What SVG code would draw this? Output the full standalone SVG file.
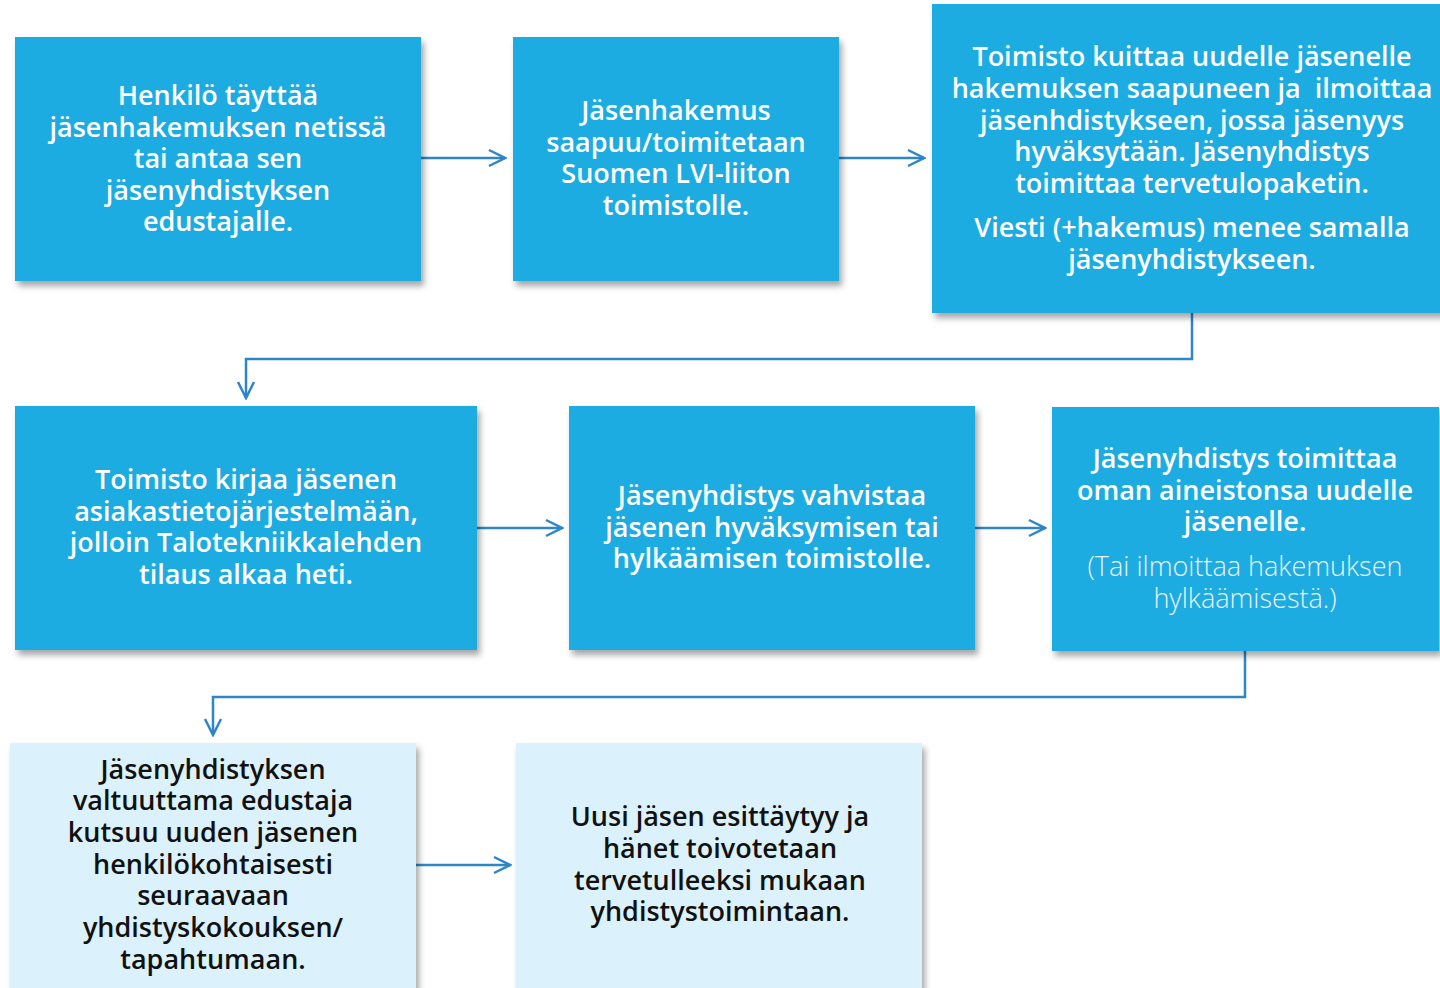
<svg xmlns="http://www.w3.org/2000/svg" width="1440" height="988" viewBox="0 0 1440 988">
<defs>
<filter id="sh" x="-10%" y="-10%" width="130%" height="130%">
<feDropShadow dx="3" dy="5" stdDeviation="3" flood-color="#000" flood-opacity="0.35"/>
</filter>
<marker id="ah" viewBox="0 0 20 20" refX="18" refY="10" markerWidth="20" markerHeight="20" markerUnits="userSpaceOnUse" orient="auto">
<path d="M2,2 L18,10 L2,18" fill="none" stroke="#2E86C8" stroke-width="2.5"/>
</marker>
</defs>
<style>
.dark{fill:#1EACE2;filter:url(#sh)}
.light{fill:#DBF1FC;filter:url(#sh)}
.t{font-family:"Open Sans","Noto Sans",sans-serif;font-size:27px;font-weight:600;text-anchor:middle;fill:#fff}
.tl{font-family:"Open Sans","Noto Sans",sans-serif;font-size:27px;font-weight:300;text-anchor:middle;fill:#EAF2F8}
.tb{font-family:"Open Sans","Noto Sans",sans-serif;font-size:27px;font-weight:600;text-anchor:middle;fill:#111}
.c{fill:none;stroke:#2E86C8;stroke-width:2.5}
</style>
<rect width="1440" height="988" fill="#fff"/>
<g id="connectors">
<path class="c" d="M421,158 H505" marker-end="url(#ah)"/>
<path class="c" d="M839,158 H924" marker-end="url(#ah)"/>
<path class="c" d="M1192,313 V359 H246 V398" marker-end="url(#ah)"/>
<path class="c" d="M477,528 H562" marker-end="url(#ah)"/>
<path class="c" d="M975,528 H1045" marker-end="url(#ah)"/>
<path class="c" d="M1245,651 V697 H213 V735" marker-end="url(#ah)"/>
<path class="c" d="M416,865 H510" marker-end="url(#ah)"/>
</g>
<g id="n1">
<rect class="dark" x="15" y="37" width="406" height="244"/>
<text class="t"><tspan x="218" y="105">Henkilö täyttää</tspan><tspan x="218" y="137">jäsenhakemuksen netissä</tspan><tspan x="218" y="168">tai antaa sen</tspan><tspan x="218" y="200">jäsenyhdistyksen</tspan><tspan x="218" y="231">edustajalle.</tspan></text>
</g>
<g id="n2">
<rect class="dark" x="513" y="37" width="326" height="244"/>
<text class="t"><tspan x="676" y="120">Jäsenhakemus</tspan><tspan x="676" y="152">saapuu/toimitetaan</tspan><tspan x="676" y="183">Suomen LVI-liiton</tspan><tspan x="676" y="215">toimistolle.</tspan></text>
</g>
<g id="n3">
<rect class="dark" x="932" y="4" width="512" height="309"/>
<text class="t"><tspan x="1192" y="66">Toimisto kuittaa uudelle jäsenelle</tspan><tspan x="1192" y="98" xml:space="preserve">hakemuksen saapuneen ja  ilmoittaa</tspan><tspan x="1192" y="130">jäsenhdistykseen, jossa jäsenyys</tspan><tspan x="1192" y="161">hyväksytään. Jäsenyhdistys</tspan><tspan x="1192" y="193">toimittaa tervetulopaketin.</tspan><tspan x="1192" y="237">Viesti (+hakemus) menee samalla</tspan><tspan x="1192" y="269">jäsenyhdistykseen.</tspan></text>
</g>
<g id="n4">
<rect class="dark" x="15" y="406" width="462" height="244"/>
<text class="t"><tspan x="246" y="489">Toimisto kirjaa jäsenen</tspan><tspan x="246" y="521">asiakastietojärjestelmään,</tspan><tspan x="246" y="552">jolloin Talotekniikkalehden</tspan><tspan x="246" y="584">tilaus alkaa heti.</tspan></text>
</g>
<g id="n5">
<rect class="dark" x="569" y="406" width="406" height="244"/>
<text class="t"><tspan x="772" y="505">Jäsenyhdistys vahvistaa</tspan><tspan x="772" y="537">jäsenen hyväksymisen tai</tspan><tspan x="772" y="568">hylkäämisen toimistolle.</tspan></text>
</g>
<g id="n6">
<rect class="dark" x="1052" y="407" width="387" height="244"/>
<text class="t"><tspan x="1245" y="468">Jäsenyhdistys toimittaa</tspan><tspan x="1245" y="500">oman aineistonsa uudelle</tspan><tspan x="1245" y="531">jäsenelle.</tspan></text>
<text class="tl"><tspan x="1245" y="576">(Tai ilmoittaa hakemuksen</tspan><tspan x="1245" y="608">hylkäämisestä.)</tspan></text>
</g>
<g id="n7">
<rect class="light" x="10" y="743" width="406" height="250"/>
<text class="tb"><tspan x="213" y="779">Jäsenyhdistyksen</tspan><tspan x="213" y="810">valtuuttama edustaja</tspan><tspan x="213" y="842">kutsuu uuden jäsenen</tspan><tspan x="213" y="874">henkilökohtaisesti</tspan><tspan x="213" y="905">seuraavaan</tspan><tspan x="213" y="937">yhdistyskokouksen/</tspan><tspan x="213" y="969">tapahtumaan.</tspan></text>
</g>
<g id="n8">
<rect class="light" x="516" y="743" width="406" height="250"/>
<text class="tb"><tspan x="720" y="826">Uusi jäsen esittäytyy ja</tspan><tspan x="720" y="858">hänet toivotetaan</tspan><tspan x="720" y="890">tervetulleeksi mukaan</tspan><tspan x="720" y="921">yhdistystoimintaan.</tspan></text>
</g>
</svg>
